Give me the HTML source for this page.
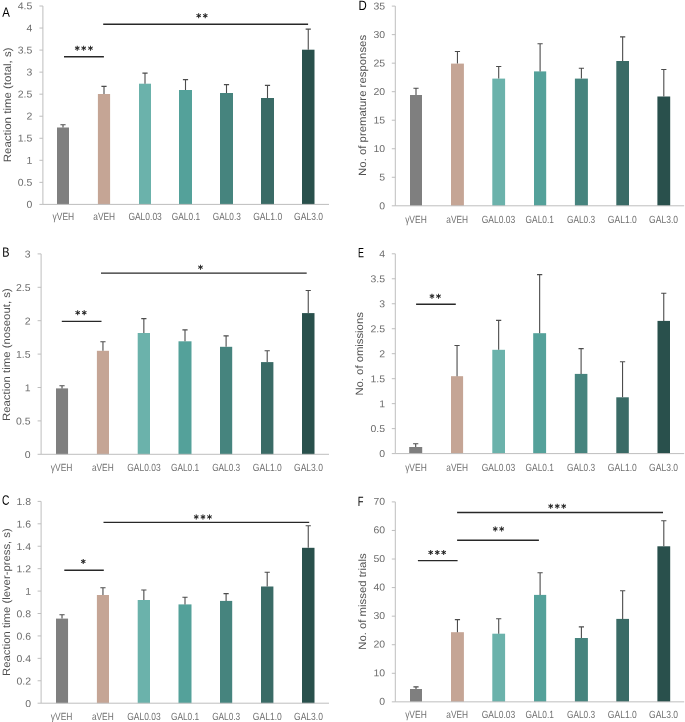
<!DOCTYPE html>
<html lang="en"><head><meta charset="utf-8"><title>Figure</title>
<style>
html,body{margin:0;padding:0;background:#fff;}
body{width:685px;height:722px;overflow:hidden;}
svg{display:block;filter:blur(0.3px);text-rendering:geometricPrecision;font-family:"Liberation Sans",sans-serif;}
.tk{font-size:10px;fill:#6c6c6c;text-anchor:end;}
.cat{font-size:10.4px;fill:#707070;text-anchor:middle;}
.ttl{font-size:10.6px;fill:#505050;text-anchor:middle;}
.pl{font-size:13.6px;fill:#000;}
.st{font-family:"DejaVu Sans","Liberation Sans",sans-serif;font-size:9.8px;fill:#1a1a1a;stroke:#1a1a1a;stroke-width:0.35px;text-anchor:middle;letter-spacing:1.7px;}
</style></head><body>
<svg width="685" height="722" viewBox="0 0 685 722">
<rect width="685" height="722" fill="#fff"/>
<g>
<rect x="57.00" y="127.50" width="12.00" height="76.90" fill="#7f7f7f"/>
<path d="M63.00 127.50V124.70M60.40 124.70H65.60" stroke="#4c4c4c" stroke-width="1.1" fill="none"/>
<rect x="97.90" y="94.00" width="12.20" height="110.40" fill="#c5a595"/>
<path d="M104.00 94.00V86.40M101.40 86.40H106.60" stroke="#4c4c4c" stroke-width="1.1" fill="none"/>
<rect x="139.00" y="83.70" width="12.00" height="120.70" fill="#6bb2ab"/>
<path d="M145.00 83.70V73.10M142.40 73.10H147.60" stroke="#4c4c4c" stroke-width="1.1" fill="none"/>
<rect x="179.00" y="90.00" width="13.00" height="114.40" fill="#54a19a"/>
<path d="M185.50 90.00V79.60M182.90 79.60H188.10" stroke="#4c4c4c" stroke-width="1.1" fill="none"/>
<rect x="220.00" y="93.00" width="13.00" height="111.40" fill="#46847e"/>
<path d="M226.50 93.00V84.60M223.90 84.60H229.10" stroke="#4c4c4c" stroke-width="1.1" fill="none"/>
<rect x="261.00" y="98.00" width="13.00" height="106.40" fill="#3a6b66"/>
<path d="M267.50 98.00V85.40M264.90 85.40H270.10" stroke="#4c4c4c" stroke-width="1.1" fill="none"/>
<rect x="302.00" y="49.70" width="12.50" height="154.70" fill="#29504c"/>
<path d="M308.25 49.70V29.10M305.65 29.10H310.85" stroke="#4c4c4c" stroke-width="1.1" fill="none"/>
<path d="M42.90 6.00V204.40M42.90 204.40H329.00M39.40 204.40H42.90M39.40 182.36H42.90M39.40 160.31H42.90M39.40 138.27H42.90M39.40 116.22H42.90M39.40 94.18H42.90M39.40 72.13H42.90M39.40 50.09H42.90M39.40 28.04H42.90M39.40 6.00H42.90" stroke="#bebebe" stroke-width="1" fill="none"/>
<text class="tk" transform="matrix(1.05 0.0005 0 1 32.30 207.75)">0</text>
<text class="tk" transform="matrix(1.05 0.0005 0 1 32.30 185.71)">0.5</text>
<text class="tk" transform="matrix(1.05 0.0005 0 1 32.30 163.66)">1</text>
<text class="tk" transform="matrix(1.05 0.0005 0 1 32.30 141.62)">1.5</text>
<text class="tk" transform="matrix(1.05 0.0005 0 1 32.30 119.57)">2</text>
<text class="tk" transform="matrix(1.05 0.0005 0 1 32.30 97.53)">2.5</text>
<text class="tk" transform="matrix(1.05 0.0005 0 1 32.30 75.48)">3</text>
<text class="tk" transform="matrix(1.05 0.0005 0 1 32.30 53.44)">3.5</text>
<text class="tk" transform="matrix(1.05 0.0005 0 1 32.30 31.39)">4</text>
<text class="tk" transform="matrix(1.05 0.0005 0 1 32.30 9.35)">4.5</text>
<text class="cat" transform="matrix(1 0.0005 0 1 63.34 220.00)" textLength="21.6" lengthAdjust="spacingAndGlyphs">γVEH</text>
<text class="cat" transform="matrix(1 0.0005 0 1 104.21 220.00)" textLength="21.8" lengthAdjust="spacingAndGlyphs">aVEH</text>
<text class="cat" transform="matrix(1 0.0005 0 1 145.08 220.00)" textLength="33.4" lengthAdjust="spacingAndGlyphs">GAL0.03</text>
<text class="cat" transform="matrix(1 0.0005 0 1 185.95 220.00)" textLength="28.3" lengthAdjust="spacingAndGlyphs">GAL0.1</text>
<text class="cat" transform="matrix(1 0.0005 0 1 226.82 220.00)" textLength="28.1" lengthAdjust="spacingAndGlyphs">GAL0.3</text>
<text class="cat" transform="matrix(1 0.0005 0 1 267.69 220.00)" textLength="29.0" lengthAdjust="spacingAndGlyphs">GAL1.0</text>
<text class="cat" transform="matrix(1 0.0005 0 1 308.56 220.00)" textLength="28.9" lengthAdjust="spacingAndGlyphs">GAL3.0</text>
<text class="ttl" transform="translate(10.80 104.90) rotate(-90)" textLength="114.8" lengthAdjust="spacingAndGlyphs">Reaction time (total, s)</text>
<text class="pl" transform="matrix(0.840 0.0005 0 1 2.20 16.80)">A</text>
<path d="M64.00 56.80H103.90" stroke="#282828" stroke-width="1.4" fill="none"/>
<text class="st" transform="matrix(1 0.0005 0 1 84.65 53.25)">***</text>
<path d="M103.20 24.30H308.10" stroke="#282828" stroke-width="1.4" fill="none"/>
<text class="st" transform="matrix(1 0.0005 0 1 202.85 20.65)">**</text>
</g>
<g>
<rect x="56.00" y="388.40" width="12.05" height="65.90" fill="#7f7f7f"/>
<path d="M62.02 388.40V385.80M59.42 385.80H64.62" stroke="#4c4c4c" stroke-width="1.1" fill="none"/>
<rect x="96.90" y="350.80" width="12.10" height="103.50" fill="#c5a595"/>
<path d="M102.95 350.80V341.70M100.35 341.70H105.55" stroke="#4c4c4c" stroke-width="1.1" fill="none"/>
<rect x="137.70" y="333.00" width="12.30" height="121.30" fill="#6bb2ab"/>
<path d="M143.85 333.00V318.60M141.25 318.60H146.45" stroke="#4c4c4c" stroke-width="1.1" fill="none"/>
<rect x="178.50" y="341.30" width="13.00" height="113.00" fill="#54a19a"/>
<path d="M185.00 341.30V329.90M182.40 329.90H187.60" stroke="#4c4c4c" stroke-width="1.1" fill="none"/>
<rect x="220.00" y="346.80" width="12.20" height="107.50" fill="#46847e"/>
<path d="M226.10 346.80V335.90M223.50 335.90H228.70" stroke="#4c4c4c" stroke-width="1.1" fill="none"/>
<rect x="261.00" y="362.10" width="12.40" height="92.20" fill="#3a6b66"/>
<path d="M267.20 362.10V350.80M264.60 350.80H269.80" stroke="#4c4c4c" stroke-width="1.1" fill="none"/>
<rect x="302.00" y="313.10" width="12.50" height="141.20" fill="#29504c"/>
<path d="M308.25 313.10V290.50M305.65 290.50H310.85" stroke="#4c4c4c" stroke-width="1.1" fill="none"/>
<path d="M41.10 253.90V454.30M41.10 454.30H329.00M37.60 454.30H41.10M37.60 420.90H41.10M37.60 387.50H41.10M37.60 354.10H41.10M37.60 320.70H41.10M37.60 287.30H41.10M37.60 253.90H41.10" stroke="#bebebe" stroke-width="1" fill="none"/>
<text class="tk" transform="matrix(1.05 0.0005 0 1 30.60 458.00)">0</text>
<text class="tk" transform="matrix(1.05 0.0005 0 1 30.60 424.60)">0.5</text>
<text class="tk" transform="matrix(1.05 0.0005 0 1 30.60 391.20)">1</text>
<text class="tk" transform="matrix(1.05 0.0005 0 1 30.60 357.80)">1.5</text>
<text class="tk" transform="matrix(1.05 0.0005 0 1 30.60 324.40)">2</text>
<text class="tk" transform="matrix(1.05 0.0005 0 1 30.60 291.00)">2.5</text>
<text class="tk" transform="matrix(1.05 0.0005 0 1 30.60 257.60)">3</text>
<text class="cat" transform="matrix(1 0.0005 0 1 61.66 470.60)" textLength="21.6" lengthAdjust="spacingAndGlyphs">γVEH</text>
<text class="cat" transform="matrix(1 0.0005 0 1 102.79 470.60)" textLength="21.8" lengthAdjust="spacingAndGlyphs">aVEH</text>
<text class="cat" transform="matrix(1 0.0005 0 1 143.92 470.60)" textLength="33.4" lengthAdjust="spacingAndGlyphs">GAL0.03</text>
<text class="cat" transform="matrix(1 0.0005 0 1 185.05 470.60)" textLength="28.3" lengthAdjust="spacingAndGlyphs">GAL0.1</text>
<text class="cat" transform="matrix(1 0.0005 0 1 226.18 470.60)" textLength="28.1" lengthAdjust="spacingAndGlyphs">GAL0.3</text>
<text class="cat" transform="matrix(1 0.0005 0 1 267.31 470.60)" textLength="29.0" lengthAdjust="spacingAndGlyphs">GAL1.0</text>
<text class="cat" transform="matrix(1 0.0005 0 1 308.44 470.60)" textLength="28.9" lengthAdjust="spacingAndGlyphs">GAL3.0</text>
<text class="ttl" transform="translate(10.20 354.70) rotate(-90)" textLength="132.8" lengthAdjust="spacingAndGlyphs">Reaction time (noseout, s)</text>
<text class="pl" transform="matrix(0.800 0.0005 0 1 2.20 256.80)">B</text>
<path d="M61.80 321.40H101.50" stroke="#282828" stroke-width="1.4" fill="none"/>
<text class="st" transform="matrix(1 0.0005 0 1 81.85 317.85)">**</text>
<path d="M101.00 273.10H306.70" stroke="#282828" stroke-width="1.4" fill="none"/>
<text class="st" transform="matrix(1 0.0005 0 1 201.25 272.25)">*</text>
</g>
<g>
<rect x="56.00" y="618.60" width="12.05" height="84.60" fill="#7f7f7f"/>
<path d="M62.02 618.60V614.80M59.42 614.80H64.62" stroke="#4c4c4c" stroke-width="1.1" fill="none"/>
<rect x="96.90" y="595.00" width="12.10" height="108.20" fill="#c5a595"/>
<path d="M102.95 595.00V587.70M100.35 587.70H105.55" stroke="#4c4c4c" stroke-width="1.1" fill="none"/>
<rect x="137.70" y="600.00" width="12.30" height="103.20" fill="#6bb2ab"/>
<path d="M143.85 600.00V590.00M141.25 590.00H146.45" stroke="#4c4c4c" stroke-width="1.1" fill="none"/>
<rect x="178.50" y="604.40" width="13.00" height="98.80" fill="#54a19a"/>
<path d="M185.00 604.40V597.30M182.40 597.30H187.60" stroke="#4c4c4c" stroke-width="1.1" fill="none"/>
<rect x="220.00" y="600.90" width="12.20" height="102.30" fill="#46847e"/>
<path d="M226.10 600.90V593.60M223.50 593.60H228.70" stroke="#4c4c4c" stroke-width="1.1" fill="none"/>
<rect x="261.00" y="586.50" width="12.40" height="116.70" fill="#3a6b66"/>
<path d="M267.20 586.50V572.20M264.60 572.20H269.80" stroke="#4c4c4c" stroke-width="1.1" fill="none"/>
<rect x="302.00" y="547.80" width="12.50" height="155.40" fill="#29504c"/>
<path d="M308.25 547.80V525.70M305.65 525.70H310.85" stroke="#4c4c4c" stroke-width="1.1" fill="none"/>
<path d="M41.10 501.40V703.20M41.10 703.20H329.00M37.60 703.20H41.10M37.60 680.78H41.10M37.60 658.36H41.10M37.60 635.93H41.10M37.60 613.51H41.10M37.60 591.09H41.10M37.60 568.67H41.10M37.60 546.24H41.10M37.60 523.82H41.10M37.60 501.40H41.10" stroke="#bebebe" stroke-width="1" fill="none"/>
<text class="tk" transform="matrix(1.05 0.0005 0 1 31.00 706.90)">0</text>
<text class="tk" transform="matrix(1.05 0.0005 0 1 31.00 684.48)">0.2</text>
<text class="tk" transform="matrix(1.05 0.0005 0 1 31.00 662.06)">0.4</text>
<text class="tk" transform="matrix(1.05 0.0005 0 1 31.00 639.63)">0.6</text>
<text class="tk" transform="matrix(1.05 0.0005 0 1 31.00 617.21)">0.8</text>
<text class="tk" transform="matrix(1.05 0.0005 0 1 31.00 594.79)">1</text>
<text class="tk" transform="matrix(1.05 0.0005 0 1 31.00 572.37)">1.2</text>
<text class="tk" transform="matrix(1.05 0.0005 0 1 31.00 549.94)">1.4</text>
<text class="tk" transform="matrix(1.05 0.0005 0 1 31.00 527.52)">1.6</text>
<text class="tk" transform="matrix(1.05 0.0005 0 1 31.00 505.10)">1.8</text>
<text class="cat" transform="matrix(1 0.0005 0 1 61.66 719.70)" textLength="21.6" lengthAdjust="spacingAndGlyphs">γVEH</text>
<text class="cat" transform="matrix(1 0.0005 0 1 102.79 719.70)" textLength="21.8" lengthAdjust="spacingAndGlyphs">aVEH</text>
<text class="cat" transform="matrix(1 0.0005 0 1 143.92 719.70)" textLength="33.4" lengthAdjust="spacingAndGlyphs">GAL0.03</text>
<text class="cat" transform="matrix(1 0.0005 0 1 185.05 719.70)" textLength="28.3" lengthAdjust="spacingAndGlyphs">GAL0.1</text>
<text class="cat" transform="matrix(1 0.0005 0 1 226.18 719.70)" textLength="28.1" lengthAdjust="spacingAndGlyphs">GAL0.3</text>
<text class="cat" transform="matrix(1 0.0005 0 1 267.31 719.70)" textLength="29.0" lengthAdjust="spacingAndGlyphs">GAL1.0</text>
<text class="cat" transform="matrix(1 0.0005 0 1 308.44 719.70)" textLength="28.9" lengthAdjust="spacingAndGlyphs">GAL3.0</text>
<text class="ttl" transform="translate(10.20 602.05) rotate(-90)" textLength="147.7" lengthAdjust="spacingAndGlyphs">Reaction time (lever-press, s)</text>
<text class="pl" transform="matrix(0.755 0.0005 0 1 1.90 504.80)">C</text>
<path d="M64.30 570.20H103.80" stroke="#282828" stroke-width="1.4" fill="none"/>
<text class="st" transform="matrix(1 0.0005 0 1 84.05 566.55)">*</text>
<path d="M103.50 522.40H309.20" stroke="#282828" stroke-width="1.4" fill="none"/>
<text class="st" transform="matrix(1 0.0005 0 1 203.75 522.05)">***</text>
</g>
<g>
<rect x="410.00" y="95.00" width="12.00" height="110.80" fill="#7f7f7f"/>
<path d="M416.00 95.00V88.20M413.40 88.20H418.60" stroke="#4c4c4c" stroke-width="1.1" fill="none"/>
<rect x="451.00" y="63.60" width="12.90" height="142.20" fill="#c5a595"/>
<path d="M457.45 63.60V51.50M454.85 51.50H460.05" stroke="#4c4c4c" stroke-width="1.1" fill="none"/>
<rect x="492.30" y="78.60" width="12.80" height="127.20" fill="#6bb2ab"/>
<path d="M498.70 78.60V66.50M496.10 66.50H501.30" stroke="#4c4c4c" stroke-width="1.1" fill="none"/>
<rect x="534.00" y="71.40" width="12.20" height="134.40" fill="#54a19a"/>
<path d="M540.10 71.40V43.70M537.50 43.70H542.70" stroke="#4c4c4c" stroke-width="1.1" fill="none"/>
<rect x="574.90" y="78.60" width="13.00" height="127.20" fill="#46847e"/>
<path d="M581.40 78.60V68.30M578.80 68.30H584.00" stroke="#4c4c4c" stroke-width="1.1" fill="none"/>
<rect x="616.30" y="61.00" width="12.70" height="144.80" fill="#3a6b66"/>
<path d="M622.65 61.00V36.90M620.05 36.90H625.25" stroke="#4c4c4c" stroke-width="1.1" fill="none"/>
<rect x="657.40" y="96.50" width="12.80" height="109.30" fill="#29504c"/>
<path d="M663.80 96.50V69.50M661.20 69.50H666.40" stroke="#4c4c4c" stroke-width="1.1" fill="none"/>
<path d="M395.30 6.10V205.80M395.30 205.80H684.20M391.80 205.80H395.30M391.80 177.27H395.30M391.80 148.74H395.30M391.80 120.21H395.30M391.80 91.69H395.30M391.80 63.16H395.30M391.80 34.63H395.30M391.80 6.10H395.30" stroke="#bebebe" stroke-width="1" fill="none"/>
<text class="tk" transform="matrix(1.05 0.0005 0 1 385.10 209.15)">0</text>
<text class="tk" transform="matrix(1.05 0.0005 0 1 385.10 180.62)">5</text>
<text class="tk" transform="matrix(1.05 0.0005 0 1 385.10 152.09)">10</text>
<text class="tk" transform="matrix(1.05 0.0005 0 1 385.10 123.56)">15</text>
<text class="tk" transform="matrix(1.05 0.0005 0 1 385.10 95.04)">20</text>
<text class="tk" transform="matrix(1.05 0.0005 0 1 385.10 66.51)">25</text>
<text class="tk" transform="matrix(1.05 0.0005 0 1 385.10 37.98)">30</text>
<text class="tk" transform="matrix(1.05 0.0005 0 1 385.10 9.45)">35</text>
<text class="cat" transform="matrix(1 0.0005 0 1 415.94 222.70)" textLength="21.6" lengthAdjust="spacingAndGlyphs">γVEH</text>
<text class="cat" transform="matrix(1 0.0005 0 1 457.21 222.70)" textLength="21.8" lengthAdjust="spacingAndGlyphs">aVEH</text>
<text class="cat" transform="matrix(1 0.0005 0 1 498.48 222.70)" textLength="33.4" lengthAdjust="spacingAndGlyphs">GAL0.03</text>
<text class="cat" transform="matrix(1 0.0005 0 1 539.75 222.70)" textLength="28.3" lengthAdjust="spacingAndGlyphs">GAL0.1</text>
<text class="cat" transform="matrix(1 0.0005 0 1 581.02 222.70)" textLength="28.1" lengthAdjust="spacingAndGlyphs">GAL0.3</text>
<text class="cat" transform="matrix(1 0.0005 0 1 622.29 222.70)" textLength="29.0" lengthAdjust="spacingAndGlyphs">GAL1.0</text>
<text class="cat" transform="matrix(1 0.0005 0 1 663.56 222.70)" textLength="28.9" lengthAdjust="spacingAndGlyphs">GAL3.0</text>
<text class="ttl" transform="translate(366.15 105.40) rotate(-90)" textLength="141.0" lengthAdjust="spacingAndGlyphs">No. of premature responses</text>
<text class="pl" transform="matrix(0.840 0.0005 0 1 358.60 9.90)">D</text>
</g>
<g>
<rect x="409.20" y="447.00" width="13.00" height="6.60" fill="#7f7f7f"/>
<path d="M415.70 447.00V443.70M413.10 443.70H418.30" stroke="#4c4c4c" stroke-width="1.1" fill="none"/>
<rect x="451.00" y="376.20" width="12.10" height="77.40" fill="#c5a595"/>
<path d="M457.05 376.20V345.50M454.45 345.50H459.65" stroke="#4c4c4c" stroke-width="1.1" fill="none"/>
<rect x="492.30" y="349.80" width="12.70" height="103.80" fill="#6bb2ab"/>
<path d="M498.65 349.80V320.40M496.05 320.40H501.25" stroke="#4c4c4c" stroke-width="1.1" fill="none"/>
<rect x="533.20" y="333.20" width="12.90" height="120.40" fill="#54a19a"/>
<path d="M539.65 333.20V274.60M537.05 274.60H542.25" stroke="#4c4c4c" stroke-width="1.1" fill="none"/>
<rect x="574.80" y="373.90" width="12.60" height="79.70" fill="#46847e"/>
<path d="M581.10 373.90V348.60M578.50 348.60H583.70" stroke="#4c4c4c" stroke-width="1.1" fill="none"/>
<rect x="616.30" y="397.30" width="12.50" height="56.30" fill="#3a6b66"/>
<path d="M622.55 397.30V361.80M619.95 361.80H625.15" stroke="#4c4c4c" stroke-width="1.1" fill="none"/>
<rect x="657.50" y="320.90" width="12.50" height="132.70" fill="#29504c"/>
<path d="M663.75 320.90V293.20M661.15 293.20H666.35" stroke="#4c4c4c" stroke-width="1.1" fill="none"/>
<path d="M395.30 253.80V453.60M395.30 453.60H684.20M391.80 453.60H395.30M391.80 428.62H395.30M391.80 403.65H395.30M391.80 378.68H395.30M391.80 353.70H395.30M391.80 328.73H395.30M391.80 303.75H395.30M391.80 278.77H395.30M391.80 253.80H395.30" stroke="#bebebe" stroke-width="1" fill="none"/>
<text class="tk" transform="matrix(1.05 0.0005 0 1 385.10 457.10)">0</text>
<text class="tk" transform="matrix(1.05 0.0005 0 1 385.10 432.12)">0.5</text>
<text class="tk" transform="matrix(1.05 0.0005 0 1 385.10 407.15)">1</text>
<text class="tk" transform="matrix(1.05 0.0005 0 1 385.10 382.18)">1.5</text>
<text class="tk" transform="matrix(1.05 0.0005 0 1 385.10 357.20)">2</text>
<text class="tk" transform="matrix(1.05 0.0005 0 1 385.10 332.23)">2.5</text>
<text class="tk" transform="matrix(1.05 0.0005 0 1 385.10 307.25)">3</text>
<text class="tk" transform="matrix(1.05 0.0005 0 1 385.10 282.27)">3.5</text>
<text class="tk" transform="matrix(1.05 0.0005 0 1 385.10 257.30)">4</text>
<text class="cat" transform="matrix(1 0.0005 0 1 415.94 470.70)" textLength="21.6" lengthAdjust="spacingAndGlyphs">γVEH</text>
<text class="cat" transform="matrix(1 0.0005 0 1 457.21 470.70)" textLength="21.8" lengthAdjust="spacingAndGlyphs">aVEH</text>
<text class="cat" transform="matrix(1 0.0005 0 1 498.48 470.70)" textLength="33.4" lengthAdjust="spacingAndGlyphs">GAL0.03</text>
<text class="cat" transform="matrix(1 0.0005 0 1 539.75 470.70)" textLength="28.3" lengthAdjust="spacingAndGlyphs">GAL0.1</text>
<text class="cat" transform="matrix(1 0.0005 0 1 581.02 470.70)" textLength="28.1" lengthAdjust="spacingAndGlyphs">GAL0.3</text>
<text class="cat" transform="matrix(1 0.0005 0 1 622.29 470.70)" textLength="29.0" lengthAdjust="spacingAndGlyphs">GAL1.0</text>
<text class="cat" transform="matrix(1 0.0005 0 1 663.56 470.70)" textLength="28.9" lengthAdjust="spacingAndGlyphs">GAL3.0</text>
<text class="ttl" transform="translate(363.30 353.90) rotate(-90)" textLength="83.4" lengthAdjust="spacingAndGlyphs">No. of omissions</text>
<text class="pl" transform="matrix(0.655 0.0005 0 1 357.90 257.20)">E</text>
<path d="M416.10 304.30H455.80" stroke="#282828" stroke-width="1.4" fill="none"/>
<text class="st" transform="matrix(1 0.0005 0 1 436.05 301.15)">**</text>
</g>
<g>
<rect x="410.00" y="689.00" width="12.00" height="12.85" fill="#7f7f7f"/>
<path d="M416.00 689.00V686.90M413.40 686.90H418.60" stroke="#4c4c4c" stroke-width="1.1" fill="none"/>
<rect x="451.00" y="632.20" width="12.90" height="69.65" fill="#c5a595"/>
<path d="M457.45 632.20V619.60M454.85 619.60H460.05" stroke="#4c4c4c" stroke-width="1.1" fill="none"/>
<rect x="492.30" y="633.70" width="12.80" height="68.15" fill="#6bb2ab"/>
<path d="M498.70 633.70V618.80M496.10 618.80H501.30" stroke="#4c4c4c" stroke-width="1.1" fill="none"/>
<rect x="534.00" y="594.90" width="12.20" height="106.95" fill="#54a19a"/>
<path d="M540.10 594.90V572.70M537.50 572.70H542.70" stroke="#4c4c4c" stroke-width="1.1" fill="none"/>
<rect x="574.90" y="638.00" width="13.00" height="63.85" fill="#46847e"/>
<path d="M581.40 638.00V626.90M578.80 626.90H584.00" stroke="#4c4c4c" stroke-width="1.1" fill="none"/>
<rect x="616.30" y="618.90" width="12.70" height="82.95" fill="#3a6b66"/>
<path d="M622.65 618.90V590.70M620.05 590.70H625.25" stroke="#4c4c4c" stroke-width="1.1" fill="none"/>
<rect x="657.40" y="546.30" width="12.80" height="155.55" fill="#29504c"/>
<path d="M663.80 546.30V520.70M661.20 520.70H666.40" stroke="#4c4c4c" stroke-width="1.1" fill="none"/>
<path d="M395.30 501.90V701.85M395.30 701.85H684.20M391.80 701.85H395.30M391.80 673.29H395.30M391.80 644.72H395.30M391.80 616.16H395.30M391.80 587.59H395.30M391.80 559.03H395.30M391.80 530.46H395.30M391.80 501.90H395.30" stroke="#bebebe" stroke-width="1" fill="none"/>
<text class="tk" transform="matrix(1.05 0.0005 0 1 385.10 704.75)">0</text>
<text class="tk" transform="matrix(1.05 0.0005 0 1 385.10 676.19)">10</text>
<text class="tk" transform="matrix(1.05 0.0005 0 1 385.10 647.62)">20</text>
<text class="tk" transform="matrix(1.05 0.0005 0 1 385.10 619.06)">30</text>
<text class="tk" transform="matrix(1.05 0.0005 0 1 385.10 590.49)">40</text>
<text class="tk" transform="matrix(1.05 0.0005 0 1 385.10 561.93)">50</text>
<text class="tk" transform="matrix(1.05 0.0005 0 1 385.10 533.36)">60</text>
<text class="tk" transform="matrix(1.05 0.0005 0 1 385.10 504.80)">70</text>
<text class="cat" transform="matrix(1 0.0005 0 1 415.94 718.00)" textLength="21.6" lengthAdjust="spacingAndGlyphs">γVEH</text>
<text class="cat" transform="matrix(1 0.0005 0 1 457.21 718.00)" textLength="21.8" lengthAdjust="spacingAndGlyphs">aVEH</text>
<text class="cat" transform="matrix(1 0.0005 0 1 498.48 718.00)" textLength="33.4" lengthAdjust="spacingAndGlyphs">GAL0.03</text>
<text class="cat" transform="matrix(1 0.0005 0 1 539.75 718.00)" textLength="28.3" lengthAdjust="spacingAndGlyphs">GAL0.1</text>
<text class="cat" transform="matrix(1 0.0005 0 1 581.02 718.00)" textLength="28.1" lengthAdjust="spacingAndGlyphs">GAL0.3</text>
<text class="cat" transform="matrix(1 0.0005 0 1 622.29 718.00)" textLength="29.0" lengthAdjust="spacingAndGlyphs">GAL1.0</text>
<text class="cat" transform="matrix(1 0.0005 0 1 663.56 718.00)" textLength="28.9" lengthAdjust="spacingAndGlyphs">GAL3.0</text>
<text class="ttl" transform="translate(366.30 601.60) rotate(-90)" textLength="96.4" lengthAdjust="spacingAndGlyphs">No. of missed trials</text>
<text class="pl" transform="matrix(0.690 0.0005 0 1 357.80 506.00)">F</text>
<path d="M417.90 560.60H457.60" stroke="#282828" stroke-width="1.4" fill="none"/>
<text class="st" transform="matrix(1 0.0005 0 1 438.05 557.45)">***</text>
<path d="M457.10 540.20H538.90" stroke="#282828" stroke-width="1.4" fill="none"/>
<text class="st" transform="matrix(1 0.0005 0 1 499.35 534.05)">**</text>
<path d="M457.10 512.50H663.00" stroke="#282828" stroke-width="1.4" fill="none"/>
<text class="st" transform="matrix(1 0.0005 0 1 558.05 511.25)">***</text>
</g>
</svg></body></html>
